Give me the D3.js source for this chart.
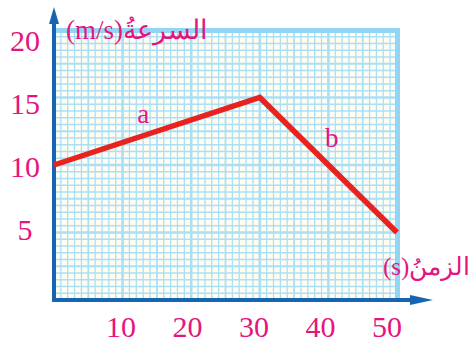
<!DOCTYPE html>
<html><head><meta charset="utf-8">
<script src="https://cdn.jsdelivr.net/npm/d3@7"></script>
<style>html,body{margin:0;padding:0;background:#fff;}svg{display:block;}</style>
</head><body>
<script>
// data
const times = [0, 30, 50];          // s
const speeds = [10, 15, 5];         // m/s
const xTicks = [10, 20, 30, 40, 50];
const yTicks = [5, 10, 15, 20];
const segLabels = ["a", "b"];
const segLabelT = [13, 40.5];
const segLabelV = [13.1, 11.3];
const yTitle = "(m/s)السرعةُ";
const xTitle = "(s)الزمنُ";

const W = 475, H = 344;
const svg = d3.select("body").append("svg").attr("width", W).attr("height", H);

const x = d3.scaleLinear().domain([0, 50]).range([54, 397]);
const y = d3.scaleLinear().domain([0, 20]).range([300, 30]);
// tick label positions (as printed in the source)
const xl = d3.scaleLinear().domain([0, 50]).range([54.5, 387]);
const yl = d3.scaleLinear().domain([0, 20]).range([293, 40]);

const pink = "#e5157f", gridC = "#aadff6", axisC = "#1565b0";

// background
svg.append("rect").attr("x", x(0)).attr("y", y(20)).attr("width", x(50) - x(0)).attr("height", y(0) - y(20)).attr("fill", "#fffdf2");

// vertical grid lines every 1 s
const g = svg.append("g");
d3.range(0, 51, 1).forEach(t => {
  const w = t % 10 === 0 ? 2.6 : (t % 5 === 0 ? 1.8 : 1.3);
  g.append("line").attr("x1", x(t)).attr("x2", x(t)).attr("y1", y(0)).attr("y2", y(20))
    .attr("stroke", gridC).attr("stroke-width", w);
});
// horizontal grid lines every 0.5 m/s
d3.range(0, 41, 1).forEach(i => {
  const v = i / 2;
  const w = i % 10 === 0 ? 2.6 : (i % 5 === 0 ? 1.8 : 1.3);
  g.append("line").attr("x1", x(0)).attr("x2", x(50)).attr("y1", y(v)).attr("y2", y(v))
    .attr("stroke", gridC).attr("stroke-width", w);
});
// thick borders top and right
svg.append("line").attr("x1", x(0)).attr("x2", x(50) + 2.5).attr("y1", y(20) + 0.5).attr("y2", y(20) + 0.5)
  .attr("stroke", "#93d5f4").attr("stroke-width", 5);
svg.append("line").attr("x1", x(50) + 0.5).attr("x2", x(50) + 0.5).attr("y1", y(20) - 2).attr("y2", y(0))
  .attr("stroke", "#93d5f4").attr("stroke-width", 5);

// axes
svg.append("line").attr("x1", x(0)).attr("x2", 412).attr("y1", y(0)).attr("y2", y(0))
  .attr("stroke", axisC).attr("stroke-width", 4);
svg.append("path").attr("d", `M410,${y(0) - 5} L433,${y(0)} L410,${y(0) + 5} Z`).attr("fill", axisC);
svg.append("line").attr("x1", x(0)).attr("x2", x(0)).attr("y1", y(0) + 2).attr("y2", 22)
  .attr("stroke", axisC).attr("stroke-width", 4);
svg.append("path").attr("d", `M${x(0) - 5},24 L${x(0)},7 L${x(0) + 5},24 Z`).attr("fill", axisC);

// tick labels
const font = "'Liberation Serif', 'Times New Roman', serif";
svg.selectAll("text.xt").data(xTicks).enter().append("text")
  .attr("x", d => xl(d)).attr("y", 337).attr("text-anchor", "middle")
  .attr("font-family", font).attr("font-size", 30).attr("fill", pink).text(d => d);
svg.selectAll("text.yt").data(yTicks).enter().append("text")
  .attr("x", 25).attr("y", d => yl(d) + 10.5).attr("text-anchor", "middle")
  .attr("font-family", font).attr("font-size", 30).attr("fill", pink).text(d => d);

// line
const line = d3.line().x((d, i) => x(times[i])).y(d => y(d));
svg.append("path").datum(speeds).attr("d", line).attr("fill", "none")
  .attr("stroke", "#e8221e").attr("stroke-width", 5.5).attr("stroke-linejoin", "miter");

// segment labels
svg.selectAll("text.seg").data(segLabels).enter().append("text")
  .attr("x", (d, i) => x(segLabelT[i])).attr("y", (d, i) => y(segLabelV[i]))
  .attr("text-anchor", "middle").attr("font-family", font).attr("font-size", 27).attr("fill", pink).text(d => d);

// axis titles
svg.append("text").attr("x", 66).attr("y", 39).attr("font-family", font).attr("font-size", 27)
  .attr("fill", pink).attr("direction", "ltr").text(yTitle);
svg.append("text").attr("x", 383).attr("y", 275).attr("font-family", font).attr("font-size", 25)
  .attr("fill", pink).attr("direction", "ltr").text(xTitle);
</script>
</body></html>
